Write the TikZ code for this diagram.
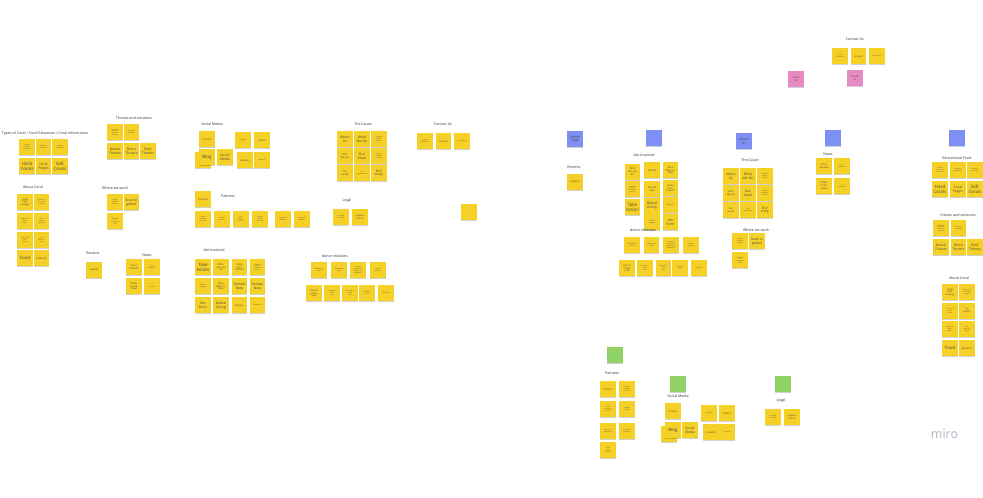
\documentclass[tikz,border=0pt]{standalone}
\usepackage{fontspec}
\setmainfont{Open Sans}
\usetikzlibrary{shadows}
\definecolor{stky}{HTML}{F5D128}
\definecolor{stblue}{HTML}{7F90F5}
\definecolor{stgreen}{HTML}{90D266}
\definecolor{stpink}{HTML}{E88BC4}
\definecolor{txt}{HTML}{4A4535}
\definecolor{ttlc}{HTML}{333333}
\definecolor{logoc}{HTML}{B4B4C2}
\begin{document}
\begin{tikzpicture}[x=1pt,y=-1pt,
  note/.style={anchor=north west, minimum width=15.5pt, minimum height=16pt, inner sep=0.3pt,
    text width=14.6pt, align=center, text=txt,
    drop shadow={shadow xshift=0pt, shadow yshift=-0.8pt, opacity=0.18, fill=black}},
  yn/.style={note, fill=stky},
  bn/.style={note, fill=stblue},
  gn/.style={note, fill=stgreen},
  pn/.style={note, fill=stpink},
  fb/.style={font=\fontsize{4.4}{5}\selectfont},
  fm/.style={font=\fontsize{3.4}{3.9}\selectfont},
  fs/.style={font=\fontsize{2.4}{2.8}\selectfont},
  ft/.style={font=\fontsize{1.5}{1.8}\selectfont},
  ttl/.style={font=\fontsize{3.6}{4.1}\selectfont, text=ttlc, inner sep=0pt}]
\useasboundingbox (0,0) rectangle (983,498);
\clip (0,0) rectangle (983,498);
\fill[white] (0,0) rectangle (983,498);

%% ---------------- LEFT BOARD ----------------
% Types of coral
\node[ttl] (tA) at (45,134) {Types of Coral / Coral Education / Coral Information};
\node[yn,ft] (a1) at (19,139) {Types of\\Coral Reef\\Formations};
\node[yn,ft] (a2) at (35.5,139) {Coral Reef\\Biodiversity};
\node[yn,ft] (a3) at (52,139) {Adaptive\\Techniques};
\node[yn,fb] (a4) at (19,158) {Hard\\Corals};
\node[yn,fm] (a5) at (35.5,158) {Coral\\Polyps};
\node[yn,fb] (a6) at (52,158) {Soft\\Corals};

% Threats and solutions
\node[ttl] (tB) at (134,118) {Threats and solutions};
\node[yn,ft] (b1) at (107,124) {What Do\\Coral Reefs\\Need to\\Survive?};
\node[yn,ft] (b2) at (123.5,124) {Coral Reef\\Protection};
\node[yn,fm] (b3) at (107,143) {Global\\Threats};
\node[yn,fm] (b4) at (123.5,143) {Direct\\Threats};
\node[yn,fm] (b5) at (140,143) {Reef\\Threats};

% About coral
\node[ttl] (tC) at (33,187) {About Coral};
\node[yn,fs] (c1) at (17,194) {Coral\\Reef\\Ecology};
\node[yn,ft] (c2) at (33.5,194) {Where Are\\Coral Reefs\\Located?};
\node[yn,ft] (c3) at (17,213) {How Coral\\Reefs\\Grow};
\node[yn,ft] (c4) at (33.5,213) {How\\Corals\\Reproduce};
\node[yn,ft] (c5) at (17,232) {Why Coral\\Reefs\\Matter?};
\node[yn,ft] (c6) at (33.5,232) {How\\Reefs Are\\Made};
\node[yn,fb] (c7) at (17,250) {Food};
\node[yn,fs] (c8) at (33.5,250) {Medicine};

% Where we work
\node[ttl] (tD) at (115,188) {Where we work};
\node[yn,ft] (d1) at (107,194) {Where\\We Work\\Oceans};
\node[yn,fm] (d2) at (123.5,194) {local to\\global};
\node[yn,ft] (d3) at (107,213) {What We\\Do\\Conservation\\Data};

% Recents / News
\node[ttl] (tE) at (93,253) {Recents};
\node[yn,fs] (e1) at (86,262) {Updates};
\node[ttl] (tF) at (147,255) {News};
\node[yn,fs] (f1) at (126,259) {Press\\releases};
\node[yn,ft] (f2) at (144,259) {Our\\Newsletter};
\node[yn,fs] (f3) at (126,278) {CORAL\\in the\\News};
\node[yn,ft] (f4) at (144,278) {In\\the News};

% Social media
\node[ttl] (tG) at (212,124) {Social Media};
\node[yn,fs] (g1) at (199,131) {Tourism};
\node[yn] (g0) at (195,152) {};
\node[yn,fb] (g2) at (199,149) {Blog};
\node[yn,fm] (g3) at (217,149) {Social\\Media};
\node[yn,ft] (g4) at (235,132) {Instagram};
\node[yn,fs] (g5) at (254,132) {Twitter};
\node[yn,fs] (g6) at (237,152) {LinkedIn};
\node[yn,ft] (g7) at (254,152) {Facebook};

% Partners
\node[ttl] (tH) at (228,196) {Partners};
\node[yn,fs] (h1) at (195,191) {Partners};
\node[yn,ft] (h2) at (195,211) {World\\Resources\\Institute};
\node[yn,ft] (h3) at (214,211) {Helpful\\Partners};
\node[yn,ft] (h4) at (233,211) {Clean\\Water\\For Reefs};
\node[yn,ft] (h5) at (252,211) {Healthy\\Fisheries\\For Reefs};
\node[yn,ft] (h6) at (275,211) {Science Of\\Adaptation};
\node[yn,ft] (h7) at (294,211) {Coral Reef\\Adaptation};

% Get involved
\node[ttl] (tI) at (214,250) {Get Involved};
\node[yn,fb] (i1) at (195,259) {Take\\Action};
\node[yn,fs] (i2) at (213,259) {What\\Can you\\do};
\node[yn,fs] (i3) at (231.5,259) {Share\\Your\\Passion};
\node[yn,ft] (i4) at (249.5,259) {Overview\\video +\\sustainable\\tourism};
\node[yn,ft] (i5) at (195,278) {Charity\\Navigator};
\node[yn,fs] (i6) at (213,278) {More\\Ways To\\Give};
\node[yn,fm] (i7) at (231.5,278) {Donate\\Now};
\node[yn,fm] (i8) at (249.5,278) {Donate\\Now};
\node[yn,fm] (i9) at (195,297) {this\\form};
\node[yn,fm] (i10) at (213,297) {Global\\Giving};
\node[yn,fs] (i11) at (231.5,297) {Donate};
\node[yn,ft] (i12) at (249.5,297) {Endowment};

% The cause
\node[ttl] (tJ) at (363,124) {The Cause};
\node[yn,fm] (j1) at (337,131) {About\\Us};
\node[yn,fm] (j2) at (354,131) {What\\We Do};
\node[yn,ft] (j3) at (371,131) {Overview\\video +\\impact};
\node[yn,fs] (j4) at (337,148) {Who\\We Are};
\node[yn,fm] (j5) at (354,148) {Our\\Team};
\node[yn,ft] (j6) at (371,148) {Mission\\statement\\+ values};
\node[yn,fs] (j7) at (337,165) {Our\\Board};
\node[yn,ft] (j8) at (354,165) {Job\\Opportunities};
\node[yn,fm] (j9) at (371,165) {Our\\story};

% Contact us
\node[ttl] (tK) at (443,124) {Contact Us};
\node[yn,ft] (k1) at (417,133) {Contact\\Information};
\node[yn,fs] (k2) at (435.5,133) {Contact};
\node[yn,ft] (k3) at (454,133) {Volunteering};
\node[yn] (l1) at (461,204) {};

% Legal
\node[ttl] (tM) at (347,201) {Legal};
\node[yn,ft] (m1) at (333,209) {Policies \&\\Disclosure};
\node[yn,fs] (m2) at (352,209) {privacy\\policy};

% donor relations
\node[ttl] (tN) at (335,256) {donor relations};
\node[yn,ft] (n1) at (311,262) {Membership\\Levels};
\node[yn,ft] (n2) at (331,262) {Membership\\Login};
\node[yn,ft] (n3) at (350,262) {Annual\\Giving Circle\\Benefits and\\Recognition};
\node[yn,ft] (n4) at (370,262) {Charity\\Navigator};
\node[yn,fs] (n5) at (306,285) {Friend\\of the\\reef};
\node[yn,ft] (n6) at (324,285) {Guardians\\of the\\reef};
\node[yn,ft] (n7) at (342,285) {Champions\\of the\\reef};
\node[yn,ft] (n8) at (359,285) {Guardian\\Reef};
\node[yn,ft] (n9) at (378,285) {Guardians};

%% ---------------- RIGHT BOARD ----------------
\node[bn,fm] (rHome) at (567,131) {Home\\Page};
\node[bn] (rB1) at (646,130) {};
\node[bn,fm] (rAbout) at (736,133) {About\\Us};
\node[bn] (rB2) at (825,130) {};
\node[bn] (rB3) at (949,130) {};

% Recents
\node[ttl] (rtE) at (574,167) {Recents};
\node[yn,fs] (re1) at (567,174) {Updates};

% Get involved
\node[ttl] (rtI) at (644,155) {Get Involved};
\node[yn,fs] (ri1) at (624.5,163.5) {What\\Can you\\do};
\node[yn,ft] (ri2) at (624.5,181) {Overview\\video +\\sustainable\\tourism};
\node[yn,fb] (ri3) at (624.5,199) {Take\\Action};
\node[yn,fs] (ri4) at (644,162) {Donate};
\node[yn,fs] (ri5) at (644,181) {Donate\\Now};
\node[yn,fm] (ri6) at (644,197.5) {Global\\Giving};
\node[yn,ft] (ri7) at (644,214) {Charity\\Navigator};
\node[yn,fs] (ri8) at (662.5,162) {More\\Ways To\\Give};
\node[yn,fs] (ri9) at (662.5,180) {Share\\Your\\Passion};
\node[yn,ft] (ri10) at (662.5,197) {Endowment};
\node[yn,fm] (ri11) at (662.5,214) {this\\form};

% donor relations
\node[ttl] (rtN) at (643,230) {donor relations};
\node[yn,ft] (rn1) at (624,237) {Membership\\Levels};
\node[yn,ft] (rn2) at (643.5,237) {Membership\\Login};
\node[yn,ft] (rn3) at (663,237) {Annual\\Giving Circle\\Benefits and\\Recognition};
\node[yn,ft] (rn4) at (683,237) {Charity\\Navigator};
\node[yn,fs] (rn5) at (619,260) {Friend\\of the\\reef};
\node[yn,ft] (rn6) at (637,260) {Guardians\\of the\\reef};
\node[yn,ft] (rn7) at (655.5,260) {Champions\\of the\\reef};
\node[yn,ft] (rn8) at (672,260) {Guardian\\Reef};
\node[yn,ft] (rn9) at (691,260) {Guardians};

% The cause
\node[ttl] (rtJ) at (750,160) {The Cause};
\node[yn,fm] (rj1) at (723,168) {About\\Us};
\node[yn,fm] (rj2) at (740,168) {What\\We Do};
\node[yn,ft] (rj3) at (757,168) {Overview\\video +\\impact};
\node[yn,fs] (rj4) at (723,185) {Who\\We Are};
\node[yn,fm] (rj5) at (740,185) {Our\\Team};
\node[yn,ft] (rj6) at (757,185) {Mission\\statement\\+ values};
\node[yn,fs] (rj7) at (723,202) {Our\\Board};
\node[yn,ft] (rj8) at (740,202) {Job\\Opportunities};
\node[yn,fm] (rj9) at (757,202) {Our\\story};

% Where we work
\node[ttl] (rtD) at (756,230) {Where we work};
\node[yn,ft] (rd1) at (732,233) {Where\\We Work\\Oceans};
\node[yn,fm] (rd2) at (749,233) {local to\\global};
\node[yn,ft] (rd3) at (732,252) {What We\\Do\\Conservation\\Data};

% News
\node[ttl] (rtF) at (828,154) {News};
\node[yn,fs] (rf1) at (816,158) {Press\\releases};
\node[yn,ft] (rf2) at (834,158) {Our\\Newsletter};
\node[yn,fs] (rf3) at (816,177.5) {CORAL\\in the\\News};
\node[yn,ft] (rf4) at (834,177.5) {In\\the News};

% Educational tools
\node[ttl] (rtA) at (957,158) {Educational Tools};
\node[yn,ft] (ra1) at (932,162) {Types of\\Coral Reef\\Formations};
\node[yn,ft] (ra2) at (950,162) {Coral Reef\\Biodiversity};
\node[yn,ft] (ra3) at (967,162) {Adaptive\\Techniques};
\node[yn,fb] (ra4) at (932,181) {Hard\\Corals};
\node[yn,fm] (ra5) at (950,181) {Coral\\Polyps};
\node[yn,fb] (ra6) at (967,181) {Soft\\Corals};

% threats and solutions
\node[ttl] (rtB) at (958,215) {threats and solutions};
\node[yn,ft] (rb1) at (933,220) {What Do\\Coral Reefs\\Need to\\Survive?};
\node[yn,ft] (rb2) at (950.5,220) {Coral Reef\\Protection};
\node[yn,fm] (rb3) at (933,239) {Global\\Threats};
\node[yn,fm] (rb4) at (950.5,239) {Direct\\Threats};
\node[yn,fm] (rb5) at (967,239) {Reef\\Threats};

% About coral
\node[ttl] (rtC) at (959,278) {About Coral};
\node[yn,fs] (rc1) at (942,284) {Coral\\Reef\\Ecology};
\node[yn,ft] (rc2) at (959,284) {Where Are\\Coral Reefs\\Located?};
\node[yn,ft] (rc3) at (942,302.5) {How Coral\\Reefs\\Grow};
\node[yn,ft] (rc4) at (959,302.5) {How\\Corals\\Reproduce};
\node[yn,ft] (rc5) at (942,321) {Why Coral\\Reefs\\Matter?};
\node[yn,ft] (rc6) at (959,321) {How\\Reefs Are\\Made};
\node[yn,fb] (rc7) at (942,340) {Food};
\node[yn,fs] (rc8) at (959,340) {Medicine};

% Contact us (top)
\node[ttl] (rtK) at (855,39) {Contact Us};
\node[yn,ft] (rk1) at (832,48) {Contact\\Information};
\node[yn,fs] (rk2) at (850.5,48) {Contact};
\node[yn,ft] (rk3) at (869,48) {Volunteering};
\node[pn,fs] (rp1) at (788,71) {Search\\bar};
\node[pn,fs] (rp2) at (847,70) {Contact\\us};

% Partners
\node[gn] (rG1) at (607,347) {};
\node[ttl] (rtH) at (612,373) {Partners};
\node[yn,fs] (rh1) at (600,381) {Partners};
\node[yn,ft] (rh2) at (619,381) {Healthy\\Fisheries\\For Reefs};
\node[yn,ft] (rh3) at (600,401) {World\\Resources\\Institute};
\node[yn,ft] (rh4) at (619,401) {Helpful\\Partners};
\node[yn,ft] (rh5) at (600,423) {Science Of\\Adaptation};
\node[yn,ft] (rh6) at (619,423) {Coral Reef\\Adaptation};
\node[yn,ft] (rh7) at (600,442) {Clean\\Water\\For Reefs};

% Social media
\node[gn] (rG2) at (670,376) {};
\node[ttl] (rtG) at (678,396) {Social Media};
\node[yn,fs] (rg1) at (665,403) {Tourism};
\node[yn] (rg0) at (661,426) {};
\node[yn,fb] (rg2) at (665,422) {Blog};
\node[yn,fm] (rg3) at (682,422) {Social\\Media};
\node[yn,ft] (rg4) at (701,405) {Instagram};
\node[yn,fs] (rg5) at (719,405) {Twitter};
\node[yn,fs] (rg6) at (703,424) {LinkedIn};
\node[yn,ft] (rg7) at (719,424) {Facebook};

% Legal
\node[gn] (rG3) at (775,376) {};
\node[ttl] (rtM) at (781,401) {Legal};
\node[yn,ft] (rm1) at (765,409) {Policies \&\\Disclosure};
\node[yn,fs] (rm2) at (784,409) {privacy\\policy};

% logo
\node[font=\fontsize{12.5}{12.5}\selectfont, text=logoc, inner sep=0pt] (logo) at (944.5,433.5) {miro};
\end{tikzpicture}
\end{document}
